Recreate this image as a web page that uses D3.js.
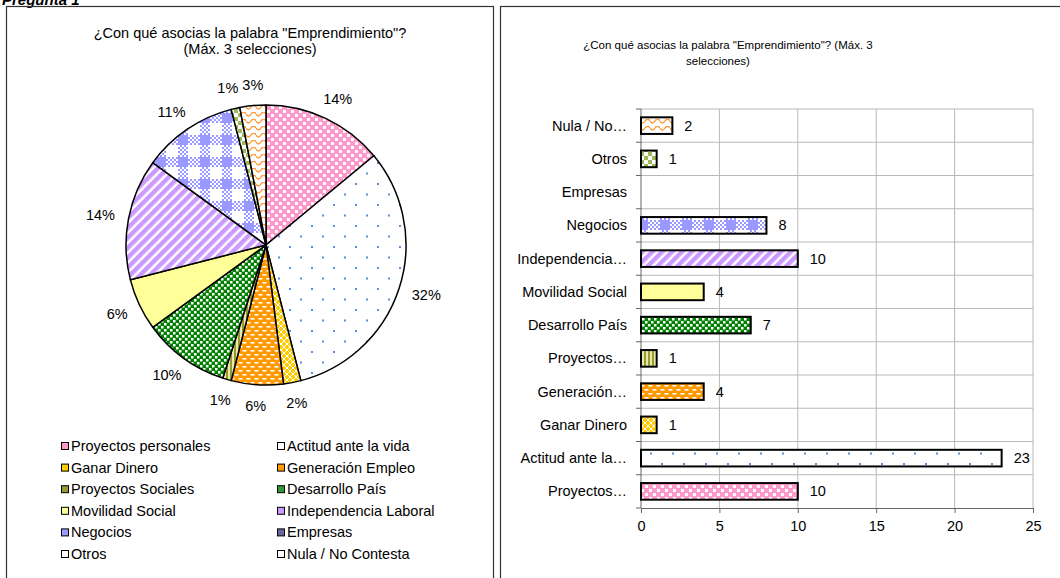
<!DOCTYPE html>
<html>
<head>
<meta charset="utf-8">
<script src="https://cdn.jsdelivr.net/npm/d3@7"></script>
<style>
  body { margin: 0; background: #fff; }
  text { font-family: "Liberation Sans", Arial, sans-serif; fill: #000; }
</style>
</head>
<body>
<script>
// data
const categories = ["Proyectos personales", "Actitud ante la vida", "Ganar Dinero", "Generación Empleo",
  "Proyectos Sociales", "Desarrollo País", "Movilidad Social", "Independencia Laboral",
  "Negocios", "Empresas", "Otros", "Nula / No Contesta"]
const counts = [10, 23, 1, 4, 1, 7, 4, 10, 8, 0, 1, 2]
// shares as printed on the pie (%)
const pieShares = [14, 32, 2, 6, 1, 10, 6, 14, 11, 0, 1, 3]
const barLabels = ["Proyectos…", "Actitud ante la…", "Ganar Dinero", "Generación…", "Proyectos…",
  "Desarrollo País", "Movilidad Social", "Independencia…", "Negocios", "Empresas", "Otros", "Nula / No…"]
const xTicks = [0, 5, 10, 15, 20, 25]
const swatchColors = ["#FF99CC", "#FFFFFF", "#FFCC00", "#FF9900", "#999933", "#339933",
  "#FFFF99", "#CC99FF", "#9999FF", "#666699", "#FFFFFF", "#FFFFFF"]

const fs = 14.5

const svg = d3.select("body").append("svg")
  .attr("width", 1060)
  .attr("height", 578)

// patterns
const defs = svg.append("defs")

function addPattern(id, w, h, bg) {
  let p = defs.append("pattern")
    .attr("id", id)
    .attr("patternUnits", "userSpaceOnUse")
    .attr("width", w)
    .attr("height", h)
  if (bg) p.append("rect").attr("width", w).attr("height", h).attr("fill", bg)
  return p
}
function sq(p, x, y, w, h, c) {
  p.append("rect").attr("x", x).attr("y", y).attr("width", w).attr("height", h).attr("fill", c)
}

let p
p = addPattern("pat0", 8, 8, "#FF99CC")
sq(p, 1, 1, 3, 3, "#fff"); sq(p, 5, 5, 3, 3, "#fff")
p = addPattern("pat1", 22, 21, "#fff")
sq(p, 1, 1, 2, 2, "#5B8FD6"); sq(p, 12, 11.5, 2, 2, "#5B8FD6")
p = addPattern("pat2", 6, 6, "#FFCC00")
p.append("path").attr("d", "M0,0L6,6M6,0L0,6").attr("stroke", "#fff").attr("stroke-width", 1)
p = addPattern("pat3", 8, 8, "#FF9900")
sq(p, 0.5, 1, 4, 1.6, "#fff"); sq(p, 4.5, 5, 3.5, 1.6, "#fff"); sq(p, 0, 5, 0.5, 1.6, "#fff")
p = addPattern("pat4", 4, 4, "#E8E8A8")
sq(p, 0, 0, 2, 4, "#999933")
p = addPattern("pat5", 6, 6, "#008000")
sq(p, 0, 0, 2.5, 2.5, "#fff"); sq(p, 3, 3, 2.5, 2.5, "#fff")
addPattern("pat6", 4, 4, "#FFFF99")
p = addPattern("pat7", 7, 7, "#fff").attr("patternTransform", "rotate(45)")
sq(p, 0, 0, 4.5, 7, "#CC99FF")
p = addPattern("fine", 4, 4, "#fff")
sq(p, 0, 0, 2, 2, "#9999FF"); sq(p, 2, 2, 2, 2, "#9999FF")
p = addPattern("pat8", 22, 22, "#fff")
sq(p, 0, 0, 22, 10, "url(#fine)"); sq(p, 0, 0, 10, 22, "url(#fine)"); sq(p, 0, 0, 10, 10, "#9999FF")
addPattern("pat9", 4, 4, "#666699")
p = addPattern("pat10", 8, 8, "#fff")
sq(p, 0, 0, 4, 4, "#9BBB59"); sq(p, 4, 4, 4, 4, "#9BBB59")
p = addPattern("pat11", 10, 7, "#fff")
p.append("path").attr("d", "M0,2Q2.5,6 5,2T10,2").attr("fill", "none")
  .attr("stroke", "#FF9933").attr("stroke-width", 1.4)

// frames
svg.append("text")
  .attr("x", 2).attr("y", 4.5)
  .attr("font-size", 15).attr("font-weight", "bold").attr("font-style", "italic")
  .text("Pregunta 1")
svg.append("rect").attr("x", 6.5).attr("y", 6.5).attr("width", 487).attr("height", 600)
  .attr("fill", "none").attr("stroke", "#333").attr("stroke-width", 1.2)
svg.append("rect").attr("x", 500.5).attr("y", 6.5).attr("width", 600).attr("height", 600)
  .attr("fill", "none").attr("stroke", "#333").attr("stroke-width", 1.2)

// ---- pie ----
const cx = 266, cy = 245, r = 140
let pieG = svg.append("g").attr("transform", `translate(${cx},${cy})`)

svg.append("text").attr("x", 250).attr("y", 38).attr("text-anchor", "middle").attr("font-size", fs)
  .text("¿Con qué asocias la palabra \"Emprendimiento\"?")
svg.append("text").attr("x", 250).attr("y", 54).attr("text-anchor", "middle").attr("font-size", fs)
  .text("(Máx. 3 selecciones)")

let arcs = d3.pie().sort(null).value(d => d)(pieShares)
let arc = d3.arc().innerRadius(0).outerRadius(r)
let shown = arcs.filter(d => d.value > 0)

pieG.selectAll("path")
  .data(shown)
  .enter()
  .append("path")
    .attr("d", arc)
    .attr("fill", d => `url(#pat${d.index})`)
    .attr("stroke", "#000")
    .attr("stroke-width", 1.5)
    .attr("stroke-linejoin", "round")

let pctLabels = pieG.selectAll("text.pct")
  .data(shown)
  .enter()
  .append("text")
    .attr("class", "pct")
    .attr("font-size", fs)
    .attr("text-anchor", "middle")
    .text(d => d.value + "%")

// place labels just outside the rim, then push apart neighbours that collide
let boxes = []
pctLabels.each(function(d) {
  let a = (d.startAngle + d.endAngle) / 2
  let w = this.getComputedTextLength()
  let R = r + 14
  boxes.push({
    node: this, w: w,
    x: Math.sin(a) * (R + w / 2),
    y: -Math.cos(a) * (R + 7)
  })
})
for (let k = 0; k < 3; k++) {
  for (let i = 0; i < boxes.length; i++) {
    let b1 = boxes[i], b2 = boxes[(i + 1) % boxes.length]
    if (Math.abs(b1.y - b2.y) > 14) continue
    let need = (b1.w + b2.w) / 2 + 4 - Math.abs(b1.x - b2.x)
    if (need > 0) {
      let s = b1.x < b2.x ? -1 : 1
      b1.x += s * need / 2
      b2.x -= s * need / 2
    }
  }
}
boxes.forEach(b => d3.select(b.node).attr("x", b.x).attr("y", b.y + 5))

// legend
let legend = svg.append("g")
  .selectAll("g")
  .data(categories)
  .enter()
  .append("g")
    .attr("transform", (d, i) => `translate(${i % 2 ? 277 : 61},${446 + Math.floor(i / 2) * 21.6})`)
legend.append("rect")
  .attr("x", 0.5).attr("y", -3.5).attr("width", 7).attr("height", 7)
  .attr("fill", (d, i) => swatchColors[i])
  .attr("stroke", "#000").attr("stroke-width", 1)
legend.append("text")
  .attr("x", 10).attr("y", 5)
  .attr("font-size", fs)
  .text(d => d)

// ---- bars ----
const plotTop = 109, plotBottom = 508, plotLeft = 641, plotRight = 1033

svg.append("text").attr("x", 728).attr("y", 49).attr("text-anchor", "middle").attr("font-size", 11.5)
  .text("¿Con qué asocias la palabra \"Emprendimiento\"? (Máx. 3")
svg.append("text").attr("x", 718).attr("y", 65).attr("text-anchor", "middle").attr("font-size", 11.5)
  .text("selecciones)")

let x = d3.scaleLinear().domain([0, 25]).range([plotLeft, plotRight])
let y = d3.scaleBand().domain(categories).range([plotBottom, plotTop])
  .paddingInner(0.5).paddingOuter(0.25)
let bound = d3.scaleLinear().domain([0, categories.length]).range([plotBottom, plotTop])

let grid = svg.append("g")
grid.selectAll("line.h")
  .data(d3.range(1, categories.length + 1))
  .enter()
  .append("line")
    .attr("x1", plotLeft).attr("x2", plotRight)
    .attr("y1", d => bound(d)).attr("y2", d => bound(d))
    .attr("stroke", "#b8b8b8")
grid.selectAll("line.v")
  .data(xTicks.slice(1))
  .enter()
  .append("line")
    .attr("x1", d => x(d)).attr("x2", d => x(d))
    .attr("y1", plotTop).attr("y2", plotBottom)
    .attr("stroke", "#b8b8b8")

// y axis with ticks at band boundaries
let yAxis = svg.append("g")
yAxis.append("line")
  .attr("x1", plotLeft).attr("x2", plotLeft)
  .attr("y1", plotTop).attr("y2", plotBottom)
  .attr("stroke", "#666")
yAxis.selectAll("line.t")
  .data(d3.range(categories.length + 1))
  .enter()
  .append("line")
    .attr("x1", plotLeft - 5).attr("x2", plotLeft)
    .attr("y1", d => bound(d)).attr("y2", d => bound(d))
    .attr("stroke", "#666")
yAxis.selectAll("text")
  .data(categories)
  .enter()
  .append("text")
    .attr("x", plotLeft - 14)
    .attr("y", d => y(d) + y.bandwidth() / 2 + 5)
    .attr("text-anchor", "end")
    .attr("font-size", fs)
    .text((d, i) => barLabels[i])

let xAxis = svg.append("g")
  .attr("transform", `translate(0,${plotBottom})`)
  .call(d3.axisBottom(x).tickValues(xTicks).tickSize(5).tickPadding(8).tickSizeOuter(0))
xAxis.select(".domain").attr("stroke", "#666")
xAxis.selectAll(".tick line").attr("stroke", "#666")
xAxis.selectAll(".tick text").attr("font-size", fs).attr("font-family", "Liberation Sans, Arial, sans-serif")

svg.append("g")
  .selectAll("rect")
  .data(categories.map((c, i) => ({ c, v: counts[i], i })).filter(d => d.v > 0))
  .enter()
  .append("rect")
    .attr("x", x(0))
    .attr("y", d => y(d.c))
    .attr("width", d => x(d.v) - x(0))
    .attr("height", y.bandwidth())
    .attr("fill", d => `url(#pat${d.i})`)
    .attr("stroke", "#000")
    .attr("stroke-width", 2)

svg.append("g")
  .selectAll("text")
  .data(categories.map((c, i) => ({ c, v: counts[i] })).filter(d => d.v > 0))
  .enter()
  .append("text")
    .attr("x", d => x(d.v) + 12)
    .attr("y", d => y(d.c) + y.bandwidth() / 2 + 5)
    .attr("font-size", fs)
    .text(d => d.v)
</script>
</body>
</html>
